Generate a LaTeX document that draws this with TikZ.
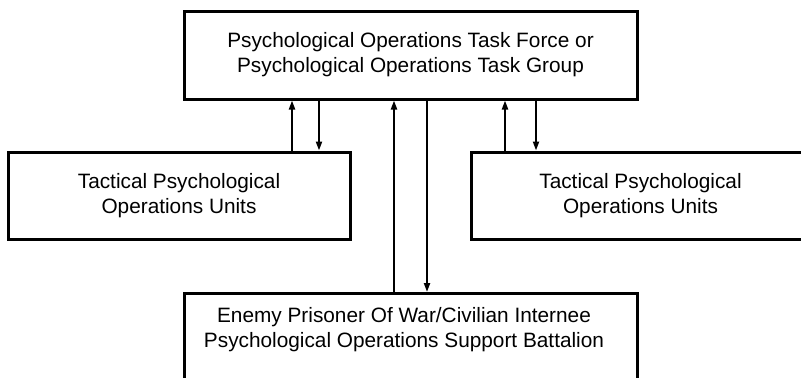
\documentclass[tikz,border=0pt]{standalone}
\usepackage{fontspec}
\setmainfont{Liberation Sans}
\usetikzlibrary{arrows.meta,calc,positioning}

\begin{document}
\begin{tikzpicture}[x=0.5pt, y=-0.5pt, font=\fontsize{10.4}{12.5}\selectfont,
        box/.style={draw, rectangle, line width=1.5pt, align=center, inner sep=0pt},
        link/.style={line width=1pt, -{Triangle[length=4.5pt,width=3pt]}}]
        \useasboundingbox (0,0) rectangle (801,377);

        % Task force or task group
        \node[box, minimum width=226.5pt, minimum height=44pt] (tf) at (410.5,55)
            {Psychological Operations Task Force or\\Psychological Operations Task Group};

        % Tactical units on both sides
        \node[box, minimum width=171pt, minimum height=43.5pt] (tpuleft) at (179,195.5)
            {Tactical Psychological\\Operations Units};
        \node[box, minimum width=169.5pt, minimum height=43.5pt] (tpuright) at (640.5,195.5)
            {Tactical Psychological\\Operations Units};

        % Support battalion (runs off the bottom)
        \node[box, minimum width=226.5pt, minimum height=60pt, anchor=north] (epw) at (410.5,292) {};
        \node[align=center] (epwtext) at (404,330)
            {Enemy Prisoner Of War/Civilian Internee\\Psychological Operations Support Battalion};

        % Links up and down
        \draw[link] ([xshift=56.5pt]tpuleft.north) -- ([xshift=56.5pt]tpuleft.north |- tf.south);
        \draw[link] ([xshift=70pt]tpuleft.north |- tf.south) -- ([xshift=70pt]tpuleft.north);
        \draw[link] ([xshift=-8.25pt]epw.north) -- ([xshift=-8.25pt]epw.north |- tf.south);
        \draw[link] ([xshift=8.25pt]epw.north |- tf.south) -- ([xshift=8.25pt]epw.north);
        \draw[link] ([xshift=-67.75pt]tpuright.north) -- ([xshift=-67.75pt]tpuright.north |- tf.south);
        \draw[link] ([xshift=-52.25pt]tpuright.north |- tf.south) -- ([xshift=-52.25pt]tpuright.north);
    \end{tikzpicture}
\end{document}
